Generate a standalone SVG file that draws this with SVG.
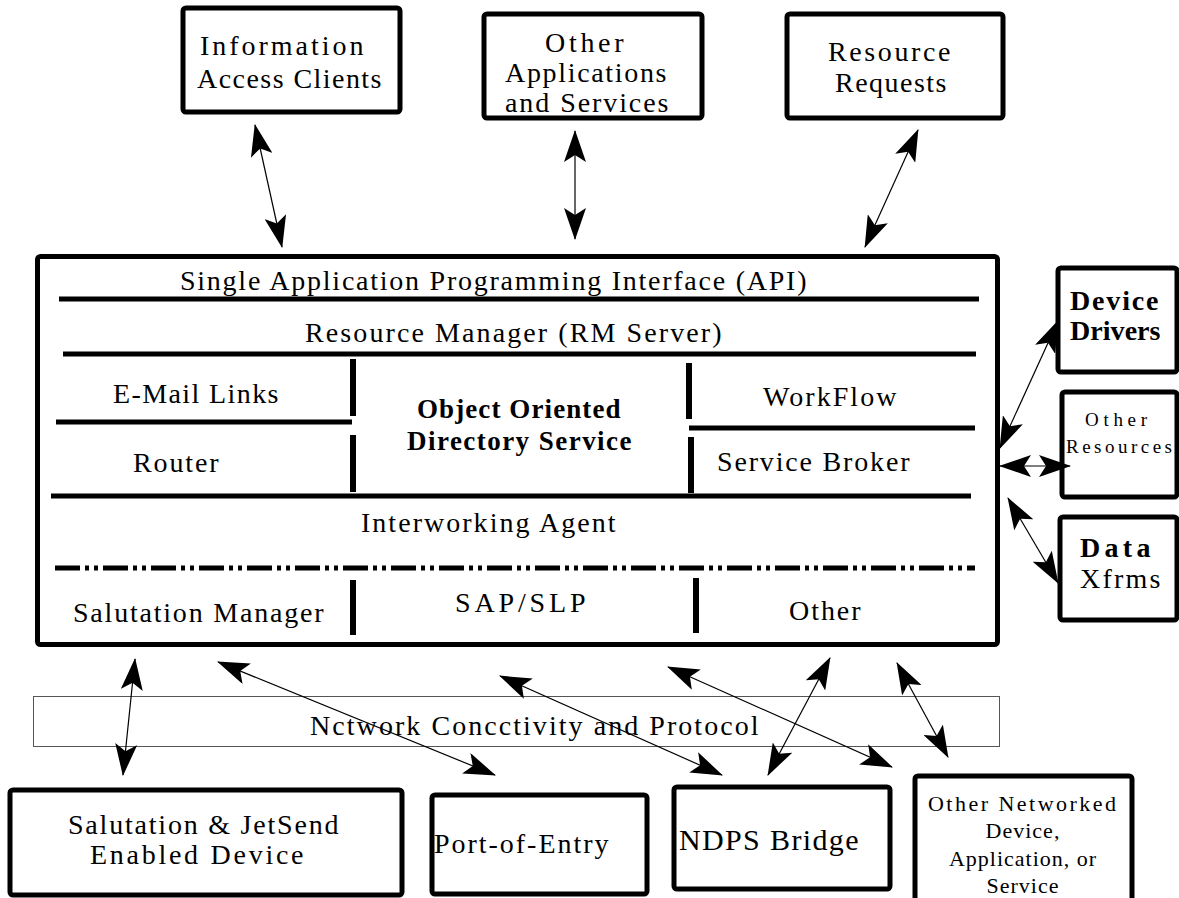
<svg xmlns="http://www.w3.org/2000/svg" width="1179" height="898" viewBox="0 0 1179 898">
<style>
.box{fill:#fff;stroke:#000;stroke-width:5}
.t{font-family:"Liberation Serif","Times New Roman",serif;font-size:28px;fill:#000;letter-spacing:1.5px}
.b{font-weight:bold}
.sep{stroke:#000;stroke-width:5;fill:none}
.vs{stroke:#000;stroke-width:6;fill:none}
.c{stroke:#000;stroke-width:1.2;fill:none;marker-start:url(#ah);marker-end:url(#ah)}
</style>
<defs>
<marker id="ah" viewBox="0 0 32 22" refX="31" refY="11" markerWidth="32" markerHeight="22" markerUnits="userSpaceOnUse" orient="auto-start-reverse">
<path d="M0,0 L32,11 L0,22 L7,11 z" fill="#000"/>
</marker>
</defs>
<rect width="1179" height="898" fill="#fff"/>

<g id="info-access-clients">
<rect class="box" x="183" y="8" width="217" height="104" rx="3"/>
<text class="t" x="200" y="55" textLength="165">Information</text>
<text class="t" x="197" y="88" textLength="186">Access Clients</text>
</g>
<g id="other-applications">
<rect class="box" x="484" y="14" width="218" height="104" rx="3"/>
<text class="t" x="545" y="52" textLength="80">Other</text>
<text class="t" x="505" y="82" textLength="163">Applications</text>
<text class="t" x="505" y="112" textLength="165">and Services</text>
</g>
<g id="resource-requests">
<rect class="box" x="787" y="14" width="216" height="104" rx="3"/>
<text class="t" x="828" y="61" textLength="124">Resource</text>
<text class="t" x="835" y="92" textLength="113">Requests</text>
</g>

<g id="main-server">
<rect class="box" x="37.5" y="256.5" width="960" height="388" rx="3"/>
<text class="t" x="180" y="290" textLength="628">Single Application Programming Interface (API)</text>
<line class="sep" x1="59" y1="299" x2="979" y2="299"/>
<text class="t" x="305" y="342" textLength="418">Resource Manager (RM Server)</text>
<line class="sep" x1="63" y1="354" x2="976" y2="354"/>
<line class="vs" x1="353" y1="359" x2="353" y2="416"/>
<line class="vs" x1="353" y1="435" x2="353" y2="492"/>
<line class="sep" x1="56" y1="422" x2="352" y2="422"/>
<text class="t" x="113" y="403" textLength="167">E-Mail Links</text>
<text class="t" x="133" y="472" textLength="87">Router</text>
<text class="t b" style="font-size:27px" x="417" y="418" textLength="205">Object Oriented</text>
<text class="t b" style="font-size:27px" x="407" y="450" textLength="226">Directory Service</text>
<line class="vs" x1="689" y1="363" x2="689" y2="419"/>
<line class="vs" x1="691" y1="437" x2="691" y2="493"/>
<line class="sep" x1="689" y1="428" x2="975" y2="428"/>
<text class="t" x="763" y="406" textLength="135">WorkFlow</text>
<text class="t" x="717" y="471" textLength="194">Service Broker</text>
<line class="sep" x1="51" y1="496" x2="971" y2="496"/>
<text class="t" x="361" y="532" textLength="256">Interworking Agent</text>
<line class="sep" x1="55" y1="568" x2="975" y2="568" stroke-dasharray="25 5 4 5 4 5"/>
<line class="vs" x1="353" y1="580" x2="353" y2="635"/>
<line class="vs" x1="696" y1="578" x2="696" y2="633"/>
<text class="t" x="73" y="622" textLength="252">Salutation Manager</text>
<text class="t" x="455" y="612" textLength="132">SAP/SLP</text>
<text class="t" x="789" y="620" textLength="73">Other</text>
</g>

<g id="device-drivers">
<rect class="box" x="1058" y="268" width="119" height="104" rx="3"/>
<text class="t b" x="1070" y="310" textLength="90">Device</text>
<text class="t b" x="1070" y="340" textLength="92">Drivers</text>
</g>
<g id="other-resources">
<rect class="box" x="1062" y="392" width="115" height="105" rx="3"/>
<text class="t" style="font-size:19px;letter-spacing:1px" x="1085" y="426" textLength="63">Other</text>
<text class="t" style="font-size:19px;letter-spacing:1px" x="1066" y="453" textLength="107">Resources</text>
</g>
<g id="data-xfrms">
<rect class="box" x="1060" y="517" width="117" height="103" rx="3"/>
<text class="t b" x="1080" y="557" textLength="72">Data</text>
<text class="t" x="1080" y="588" textLength="82">Xfrms</text>
</g>

<g id="network-bar">
<rect x="33.5" y="696.5" width="966" height="50" fill="#fff" stroke="#555" stroke-width="1"/>
<text class="t" x="310" y="735" textLength="450">Nctwork Concctivity and Protocol</text>
</g>

<g id="salutation-device">
<rect class="box" x="10" y="790" width="392" height="105" rx="3"/>
<text class="t" x="68" y="834" textLength="272">Salutation &amp; JetSend</text>
<text class="t" x="90" y="864" textLength="215">Enabled Device</text>
</g>
<g id="port-of-entry">
<rect class="box" x="432" y="795" width="215" height="99" rx="3"/>
<text class="t" x="434" y="853" textLength="176">Port-of-Entry</text>
</g>
<g id="ndps-bridge">
<rect class="box" x="674" y="787" width="216" height="102" rx="3"/>
<text class="t" style="font-size:30px;letter-spacing:1.5px" x="679" y="850" textLength="181">NDPS Bridge</text>
</g>
<g id="other-networked">
<rect class="box" x="915" y="776" width="217" height="130" rx="3"/>
<text class="t" style="font-size:22px;letter-spacing:1px" x="928" y="811" textLength="189">Other Networked</text>
<text class="t" style="font-size:22px;letter-spacing:1px" x="1023" y="838" text-anchor="middle">Device,</text>
<text class="t" style="font-size:22px;letter-spacing:1px" x="1023" y="866" text-anchor="middle">Application, or</text>
<text class="t" style="font-size:22px;letter-spacing:1px" x="1023" y="893" text-anchor="middle">Service</text>
</g>

<g id="connectors">
<line class="c" x1="255" y1="125" x2="282" y2="247"/>
<line class="c" x1="575" y1="131" x2="575" y2="239"/>
<line class="c" x1="918" y1="130" x2="865" y2="247"/>
<line class="c" x1="1000" y1="448" x2="1058" y2="321"/>
<line class="c" x1="1000" y1="466" x2="1070" y2="466"/>
<line class="c" x1="1008" y1="498" x2="1058" y2="583"/>
<line class="c" x1="135" y1="659" x2="123" y2="775"/>
<line class="c" x1="218" y1="662" x2="495" y2="775"/>
<line class="c" x1="500" y1="676" x2="722" y2="775"/>
<line class="c" x1="668" y1="667" x2="892" y2="767"/>
<line class="c" x1="830" y1="658" x2="768" y2="775"/>
<line class="c" x1="897" y1="663" x2="948" y2="757"/>
</g>
</svg>
